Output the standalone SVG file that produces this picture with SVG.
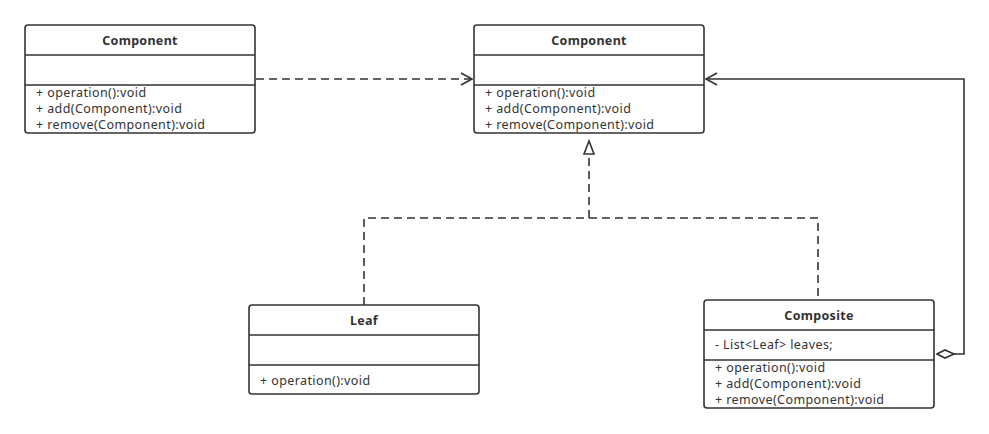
<svg xmlns="http://www.w3.org/2000/svg" width="989" height="434" viewBox="0 0 989 434">
<defs>
<style>
.box{fill:#fff;stroke:#333;stroke-width:1.6}
.div{stroke:#333;stroke-width:1.6}
.t{font-family:"Noto Sans","Open Sans",sans-serif;font-size:12.5px;letter-spacing:0.4px;fill:#333}
.b{font-weight:bold;text-anchor:middle;letter-spacing:0.3px}
.ln{fill:none;stroke:#333;stroke-width:1.6}
.d{stroke-dasharray:8 5}
</style>
<marker id="open" markerWidth="14" markerHeight="14" refX="12" refY="7" orient="auto" markerUnits="userSpaceOnUse">
<path d="M1,1 L12,7 L1,13" fill="none" stroke="#333" stroke-width="1.6"/>
</marker>
<marker id="tri" markerWidth="16" markerHeight="16" refX="14" refY="6" orient="auto" markerUnits="userSpaceOnUse">
<path d="M1,1 L14,6 L1,11 Z" fill="#fff" stroke="#333" stroke-width="1.6"/>
</marker>
<marker id="dia" markerWidth="22" markerHeight="12" refX="1" refY="6" orient="auto" markerUnits="userSpaceOnUse">
<path d="M1,6 L9,2 L18,6 L9,10 Z" fill="#fff" stroke="#333" stroke-width="1.6"/>
</marker>
</defs>
<rect width="989" height="434" fill="#fff"/>
<g id="connectors">
<line class="ln d" x1="256" y1="79" x2="472" y2="79" marker-end="url(#open)"/>
<path class="ln d" d="M364,305 V218 H818 V300"/>
<line class="ln d" x1="589" y1="218" x2="589" y2="141" marker-end="url(#tri)"/>
<path class="ln" d="M937,354 H964 V79 H706" marker-start="url(#dia)" marker-end="url(#open)"/>
</g>
<g id="component1">
<rect class="box" x="25" y="25" width="230" height="108" rx="3"/>
<line class="div" x1="25" y1="55" x2="255" y2="55"/>
<line class="div" x1="25" y1="85" x2="255" y2="85"/>
<text class="t b" x="140" y="45">Component</text>
<text class="t" x="36" y="97">+ operation():void</text>
<text class="t" x="36" y="113">+ add(Component):void</text>
<text class="t" x="36" y="129">+ remove(Component):void</text>
</g>
<g id="component2">
<rect class="box" x="474" y="25" width="230" height="108" rx="3"/>
<line class="div" x1="474" y1="55" x2="704" y2="55"/>
<line class="div" x1="474" y1="85" x2="704" y2="85"/>
<text class="t b" x="589" y="45">Component</text>
<text class="t" x="485" y="97">+ operation():void</text>
<text class="t" x="485" y="113">+ add(Component):void</text>
<text class="t" x="485" y="129">+ remove(Component):void</text>
</g>
<g id="leaf">
<rect class="box" x="249" y="305" width="230" height="89" rx="3"/>
<line class="div" x1="249" y1="335" x2="479" y2="335"/>
<line class="div" x1="249" y1="365" x2="479" y2="365"/>
<text class="t b" x="364" y="325">Leaf</text>
<text class="t" x="260" y="385">+ operation():void</text>
</g>
<g id="composite">
<rect class="box" x="704" y="300" width="230" height="108" rx="3"/>
<line class="div" x1="704" y1="330" x2="934" y2="330"/>
<line class="div" x1="704" y1="360" x2="934" y2="360"/>
<text class="t b" x="819" y="320">Composite</text>
<text class="t" x="715" y="349">- List&lt;Leaf&gt; leaves;</text>
<text class="t" x="715" y="372">+ operation():void</text>
<text class="t" x="715" y="388">+ add(Component):void</text>
<text class="t" x="715" y="404">+ remove(Component):void</text>
</g>
</svg>
